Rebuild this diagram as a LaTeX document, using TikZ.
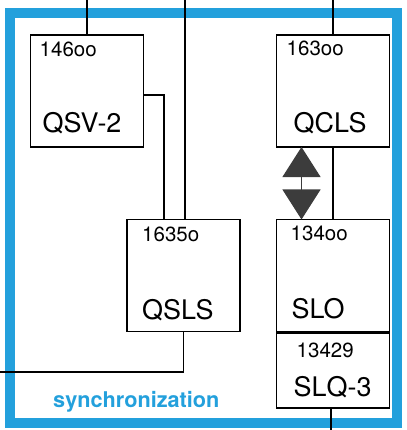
\documentclass[tikz,border=0pt]{standalone}
\usepackage{fontspec}
\setmainfont{TeX Gyre Heros}
\usepackage{xcolor}
\usepackage{tikz}
\usetikzlibrary{arrows.meta,positioning,calc}

\definecolor{syncblue}{HTML}{23A0DC}
\definecolor{tipgray}{HTML}{3C3C3C}

\begin{document}
\begin{tikzpicture}[x=0.03cm, y=-0.03cm,
  box/.style={draw, line width=1.6pt, fill=white, inner sep=0pt, outer sep=0pt, minimum width=3.39cm, minimum height=3.36cm},
  num/.style={anchor=north west, inner sep=0pt, font=\fontsize{17.5}{17.5}\selectfont},
  unit/.style={anchor=west, inner sep=0pt, font=\fontsize{23}{23}\selectfont},
  wire/.style={line width=1.1pt},
  sync/.style={line width=1pt, tipgray, {Triangle[width=1.14cm, length=0.9cm]}-{Triangle[width=1.14cm, length=0.9cm]}}]
\useasboundingbox (0,0) rectangle (406,430);
% frame
\draw[syncblue, line width=0.3cm] (10,13) rectangle (397,423);
\node[anchor=base west, inner sep=0pt, text=syncblue, font=\fontsize{18.5}{18.5}\selectfont\bfseries] (synclabel) at (53,407) {synchronization};

% boxes
\node[box] (qsv) at (87,91) {};
\node[box] (qcls) at (333,91) {};
\node[box] (qsls) at (183.5,275.5) {};
\node[box] (slo) at (333,275.5) {};
\node[box, minimum height=2.25cm] (slq) at (333,370.5) {};

% labels
\node[num] (qsvnum) at ([shift={(9,7)}]qsv.north west) {146oo};
\node[unit] (qsvname) at ([shift={(12,32)}]qsv.west) {QSV-2};
\node[num] (qclsnum) at ([shift={(10,6)}]qcls.north west) {163oo};
\node[unit] (qclsname) at ([shift={(17,32)}]qcls.west) {QCLS};
\node[num] (qslsnum) at ([shift={(15,7)}]qsls.north west) {1635o};
\node[unit] (qslsname) at ([shift={(15,34.5)}]qsls.west) {QSLS};
\node[num] (slonum) at ([shift={(14,6)}]slo.north west) {134oo};
\node[unit] (sloname) at ([shift={(15,33.5)}]slo.west) {SLO};
\node[num, anchor=west] (slqnum) at ([shift={(20,-20.5)}]slq.west) {13429};
\node[unit] (slqname) at ([shift={(17,16.5)}]slq.west) {SLQ-3};

% connections
\coordinate (qsvin) at (87,0);
\coordinate (qslsin) at (185,0);
\coordinate (qclsin) at (333,0);
\coordinate (qslsout) at (0,372);
\coordinate (slqout) at (331,430);
\draw[wire] (qsv.north) -- (qsvin);
\draw[wire] ([shift={(0,4)}]qsv.east) -| ([shift={(-19.5,0)}]qsls.north);
\draw[wire] (qslsin) -- (qslsin |- qsls.north);
\draw[wire] (qsls.south) |- (qslsout);
\draw[wire] (qcls.north) -- (qclsin);
\draw[wire] (qcls.south) -- (slo.north);
\draw[wire] ([shift={(-2,0)}]slq.south) -- (slqout);
\draw[sync] ([shift={(25,0)}]qcls.south west) -- ([shift={(25,0)}]slo.north west);
\end{tikzpicture}
\end{document}
